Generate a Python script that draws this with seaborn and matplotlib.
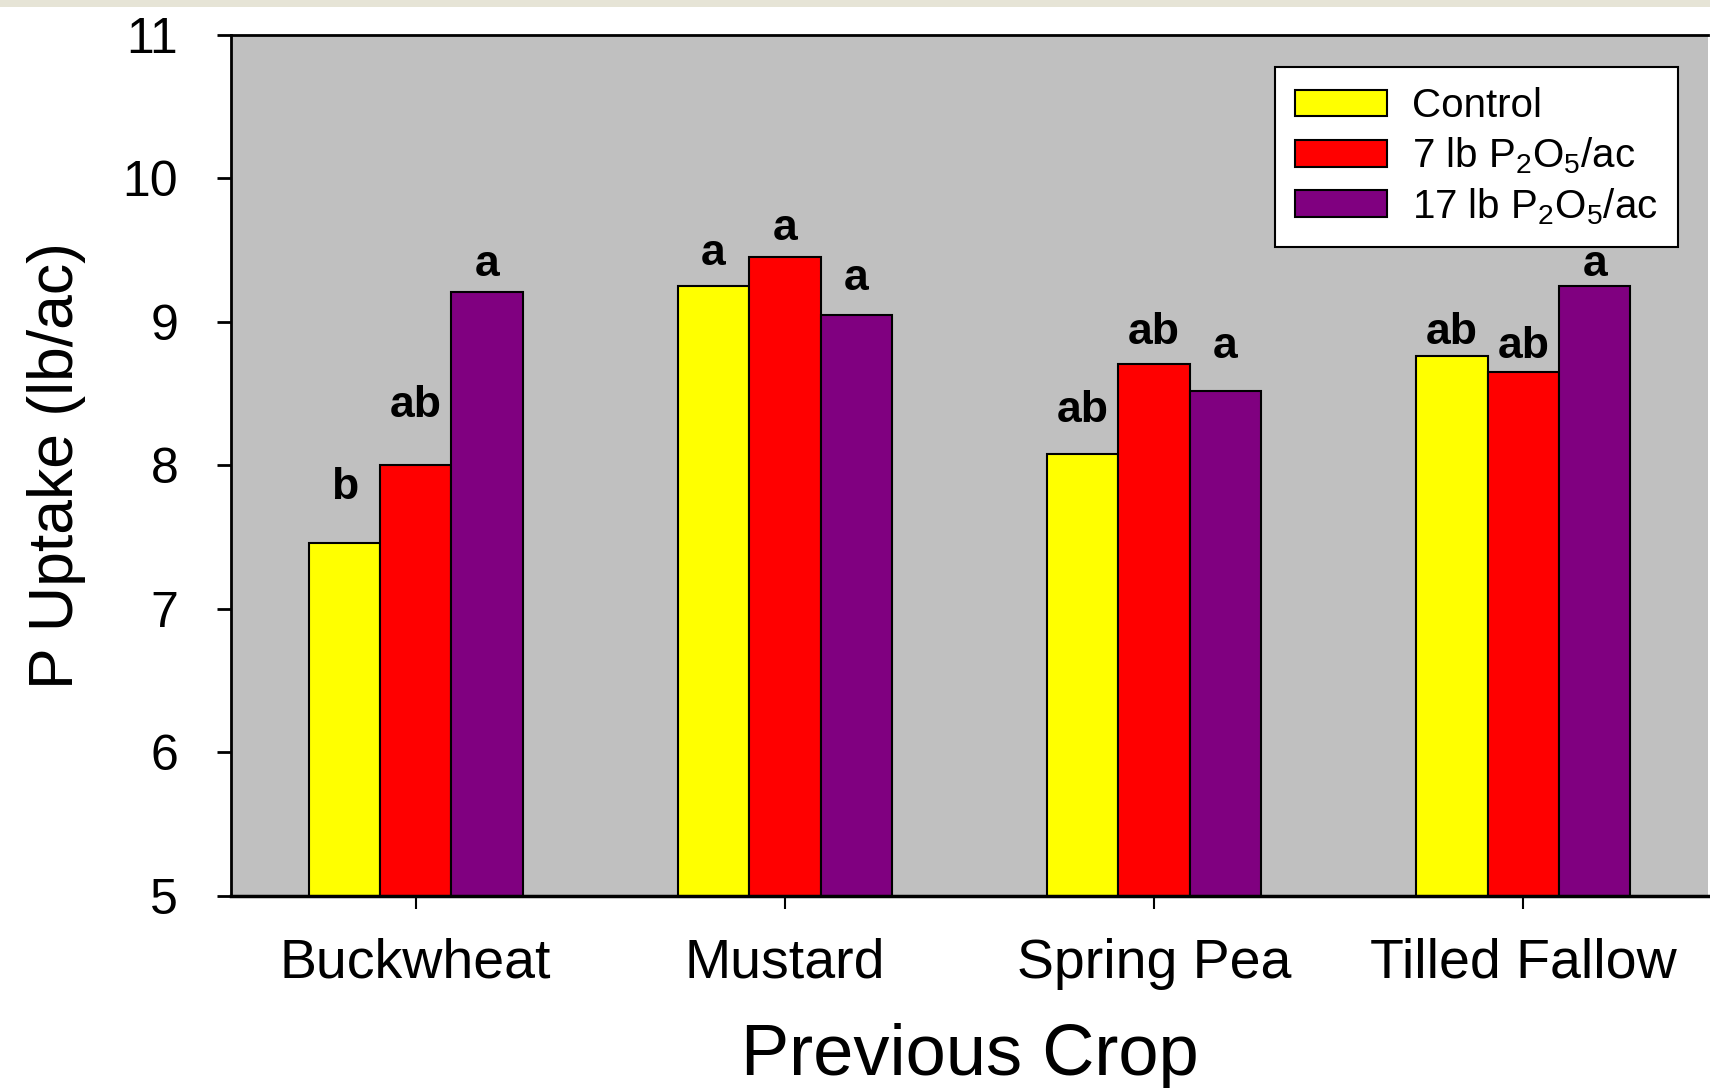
import matplotlib
matplotlib.use("Agg")
import matplotlib.pyplot as plt
from matplotlib.patches import Rectangle
import seaborn as sns
import pandas as pd

# Phosphorus uptake by previous crop and P fertilizer rate
crops = ["Buckwheat", "Mustard", "Spring Pea", "Tilled Fallow"]
treatments = ["Control", "7 lb P$_\\mathregular{2}$O$_\\mathregular{5}$/ac",
              "17 lb P$_\\mathregular{2}$O$_\\mathregular{5}$/ac"]
control = [7.46, 9.25, 8.08, 8.76]
p7 = [8.00, 9.45, 8.71, 8.65]
p17 = [9.21, 9.05, 8.52, 9.25]

# mean separation letters (per treatment, per crop)
letters_control = ["b", "a", "ab", "ab"]
letters_p7 = ["ab", "a", "ab", "ab"]
letters_p17 = ["a", "a", "a", "a"]

colors = ["#ffff00", "#ff0000", "#800080"]

sns.set_style("white")
plt.rcParams["font.family"] = ["Liberation Sans", "DejaVu Sans"]
plt.rcParams["mathtext.fontset"] = "custom"
plt.rcParams["mathtext.rm"] = "Liberation Sans"
plt.rcParams["mathtext.it"] = "Liberation Sans:italic"
plt.rcParams["mathtext.bf"] = "Liberation Sans:bold"
plt.rcParams["text.color"] = "black"
plt.rcParams["axes.labelcolor"] = "black"
plt.rcParams["xtick.color"] = "black"
plt.rcParams["ytick.color"] = "black"

df = pd.DataFrame({
    "crop": crops * 3,
    "treatment": [treatments[0]] * 4 + [treatments[1]] * 4 + [treatments[2]] * 4,
    "uptake": control + p7 + p17,
})

fig = plt.figure(figsize=(17.1, 10.88), dpi=100)
fig.patches.append(Rectangle((0, 1 - 7 / 1088), 1, 7 / 1088, transform=fig.transFigure,
                             facecolor="#e6e4d6", edgecolor="none", zorder=0))
ax = fig.add_axes([231 / 1710, 1 - 896 / 1088, 1477 / 1710, 861 / 1088])
ax.set_facecolor("#c0c0c0")

sns.barplot(data=df, x="crop", y="uptake", hue="treatment", order=crops,
            hue_order=treatments, palette=colors, width=0.58, gap=0,
            edgecolor="black", linewidth=1.5, saturation=1, errorbar=None, ax=ax)

ax.set_ylim(5, 11)
ax.set_xlim(-0.5, 3.5)
ax.set_yticks(range(5, 12))

# letters sit just above each bar
letter_sets = [letters_control, letters_p7, letters_p17]
letter_offset = [[0.39, 0.23, 0.30, 0.17],
                 [0.42, 0.20, 0.22, 0.18],
                 [0.19, 0.25, 0.31, 0.15]]
for k, cont in enumerate(ax.containers):
    for j, bar in enumerate(cont):
        xc = bar.get_x() + bar.get_width() / 2
        ax.text(xc, bar.get_height() + letter_offset[k][j], letter_sets[k][j],
                ha="center", va="center", fontsize=32, fontweight="bold", color="black")

for side in ["left", "bottom", "top"]:
    ax.spines[side].set_visible(True)
    ax.spines[side].set_color("black")
ax.spines["left"].set_linewidth(2)
ax.spines["bottom"].set_linewidth(2.5)
ax.spines["top"].set_linewidth(2)
ax.spines["right"].set_visible(False)

ax.tick_params(axis="y", direction="out", length=10, width=2, pad=28, labelsize=36,
               left=True, colors="black")
ax.tick_params(axis="x", direction="out", length=9, width=1.5, pad=21, labelsize=40,
               bottom=True, colors="black")

ax.set_xlabel("Previous Crop", fontsize=52, labelpad=24)
ax.set_ylabel("P Uptake (lb/ac)", fontsize=45, labelpad=26)

leg = ax.legend(loc="upper right", bbox_to_anchor=(0.9797, 0.9628), fontsize=29,
                frameon=True, fancybox=False, framealpha=1, edgecolor="black",
                facecolor="white", handlelength=2.28, handleheight=0.65,
                handletextpad=0.62, borderpad=0.5, labelspacing=0.25,
                borderaxespad=0)
leg.get_frame().set_linewidth(1.5)
for h in leg.legend_handles:
    h.set_edgecolor("black")
    h.set_linewidth(1.5)

fig.savefig("out.png", dpi=100)
